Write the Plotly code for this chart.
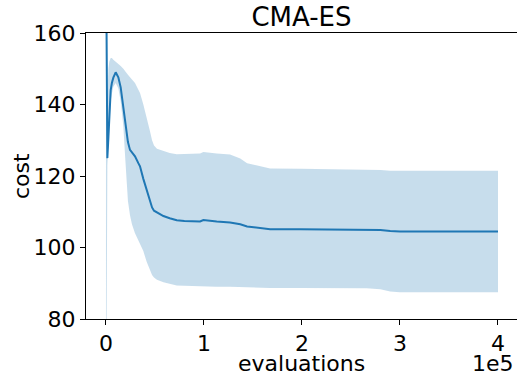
import plotly.graph_objects as go

# evaluations (raw), mean cost, upper and lower band
evals = [0, 1400, 2500, 3400, 4800, 6000, 7500, 9900, 12600, 15000, 17700, 19400,
         20400, 22400, 24500, 26500, 29600, 33000, 34700, 38100, 41500, 44900,
         47000, 49000, 52000, 58600, 65000, 72200, 80000, 96000, 99400, 105000,
         113000, 126600, 137000, 144000, 157000, 167500, 198000, 266000, 280000,
         290000, 300000, 400000]
mean_cost = [185, 125, 131, 137, 144, 146, 147.5, 149, 147.6, 144.8, 138.7, 135,
             133, 129.5, 127.3, 126.6, 125.5, 123.6, 122.7, 119.2, 116.0, 112.8,
             111.2, 110.3, 109.8, 108.8, 108.2, 107.6, 107.4, 107.3, 107.7, 107.6,
             107.3, 107.0, 106.5, 105.9, 105.5, 105.1, 105.1, 105.1, 104.9,
             104.6, 104.5, 104.5]
upper_cost = [260, 142, 150, 152, 153, 153, 152.5, 152, 151.5, 150.8, 150, 149.5,
              149, 148.3, 147.5, 147, 146, 144.3, 143.2, 140.0, 136.5, 132.5,
              130.0, 128.5, 127.6, 126.9, 126.4, 126.1, 126.1, 126.3, 126.7, 126.6,
              126.3, 126.0, 124.9, 123.6, 122.8, 122.1, 122.0, 121.9, 121.7,
              121.5, 121.5, 121.5]
lower_cost = [40, 123, 129, 135, 141, 143, 145, 146, 144.5, 141, 134, 126,
              121, 113, 109, 106.5, 104, 102, 101.3, 99, 96, 93.5,
              92.3, 91.6, 91.0, 90.3, 89.8, 89.4, 89.3, 89.1, 89.1, 89.1,
              89.0, 89.0, 88.9, 88.8, 88.8, 88.7, 88.7, 88.6, 88.3,
              87.7, 87.5, 87.5]

x_tickvals = [0, 100000, 200000, 300000, 400000]
x_ticktext = ["0", "1", "2", "3", "4"]
y_tickvals = [80, 100, 120, 140, 160]

blue = "#1f77b4"
font = "DejaVu Sans"

fig = go.Figure()
fig.add_trace(go.Scatter(x=evals, y=lower_cost, mode="lines",
                         line=dict(width=0, color=blue), showlegend=False,
                         hoverinfo="skip"))
fig.add_trace(go.Scatter(x=evals, y=upper_cost, mode="lines",
                         line=dict(width=0, color=blue), fill="tonexty",
                         fillcolor="rgba(31,119,180,0.25)", showlegend=False,
                         hoverinfo="skip"))
fig.add_trace(go.Scatter(x=evals, y=mean_cost, mode="lines",
                         line=dict(width=2, color=blue), showlegend=False))

fig.update_layout(
    width=517, height=376,
    margin=dict(l=86, r=0, t=33, b=57),
    paper_bgcolor="white", plot_bgcolor="white",
    font=dict(family=font, size=22, color="black"),
    title=dict(text="CMA-ES", x=0.5, xref="paper", xanchor="center",
               y=1 - 17 / 376, yref="container", yanchor="middle",
               font=dict(size=26, family=font, color="black")),
    xaxis=dict(range=[-20400, 419400], tickvals=x_tickvals, ticktext=x_ticktext,
               showgrid=False, zeroline=False, showline=True, linecolor="black",
               linewidth=1, mirror=True, ticks="outside", ticklen=5,
               tickcolor="black", tickwidth=1,
               tickfont=dict(size=22, family=font, color="black")),
    yaxis=dict(range=[80, 160], tickvals=y_tickvals,
               showgrid=False, zeroline=False, showline=True, linecolor="black",
               linewidth=1, mirror=False, ticks="outside", ticklen=5,
               tickcolor="black", tickwidth=1,
               tickfont=dict(size=22, family=font, color="black")),
    annotations=[
        dict(text="evaluations", xref="paper", yref="paper", x=0.5, y=0,
             xanchor="center", yanchor="middle", yshift=-44, showarrow=False,
             font=dict(size=22, family=font, color="black")),
        dict(text="1e5", xref="paper", yref="paper", x=1, y=0,
             xanchor="right", yanchor="middle", yshift=-44, xshift=-1,
             showarrow=False, font=dict(size=22, family=font, color="black")),
        dict(text="cost", xref="paper", yref="paper", x=0, y=0.5,
             xanchor="center", yanchor="middle", xshift=-65, textangle=-90,
             showarrow=False, font=dict(size=22, family=font, color="black")),
    ],
)

fig.write_html("out.html")
